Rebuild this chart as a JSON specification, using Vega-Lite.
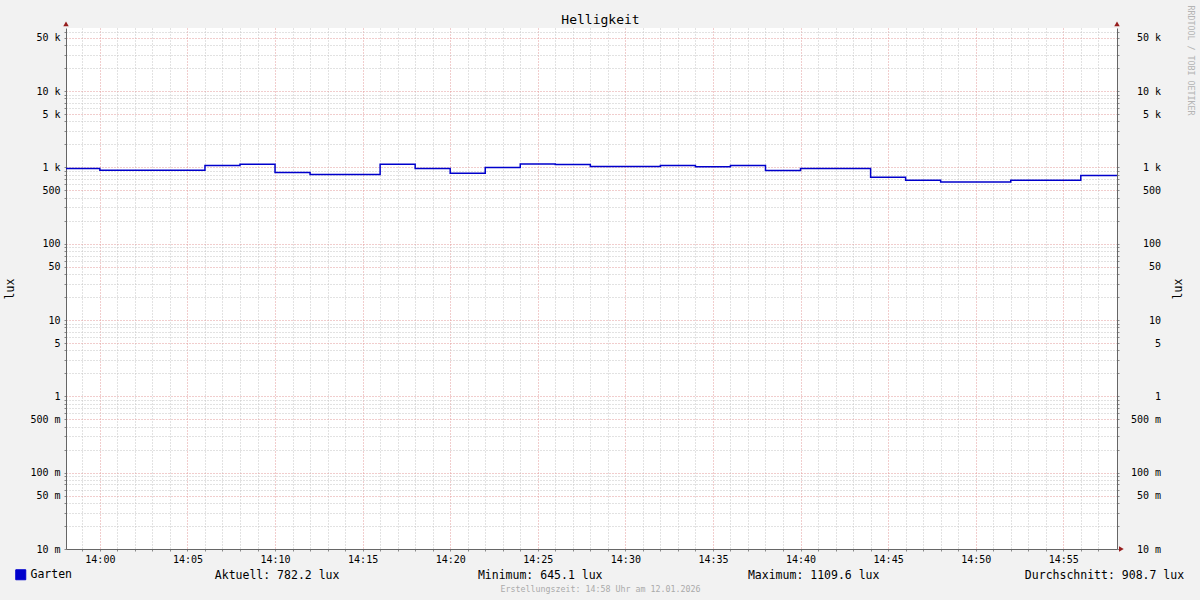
{
  "$schema": "https://vega.github.io/schema/vega-lite/v6.json",
  "autosize": "none",
  "width": 1051,
  "height": 521,
  "padding": {"left": 66, "top": 28, "right": 83, "bottom": 51},
  "background": "#F2F2F2",
  "config": {"view": {"stroke": null, "fill": "#FFFFFF"}, "font": "DejaVu Sans Mono"},
  "resolve": {"axis": {"x": "independent", "y": "independent"}},
  "layer": [
    {
      "data": {"values": [
        {"zeit": "2026-01-12T13:58:00Z", "lux": 970},
        {"zeit": "2026-01-12T14:00:00Z", "lux": 914},
        {"zeit": "2026-01-12T14:06:00Z", "lux": 1062},
        {"zeit": "2026-01-12T14:08:00Z", "lux": 1095},
        {"zeit": "2026-01-12T14:10:00Z", "lux": 860},
        {"zeit": "2026-01-12T14:12:00Z", "lux": 809},
        {"zeit": "2026-01-12T14:16:00Z", "lux": 1100},
        {"zeit": "2026-01-12T14:18:00Z", "lux": 970},
        {"zeit": "2026-01-12T14:20:00Z", "lux": 835},
        {"zeit": "2026-01-12T14:22:00Z", "lux": 1000},
        {"zeit": "2026-01-12T14:24:00Z", "lux": 1109.6},
        {"zeit": "2026-01-12T14:26:00Z", "lux": 1090},
        {"zeit": "2026-01-12T14:28:00Z", "lux": 1030},
        {"zeit": "2026-01-12T14:32:00Z", "lux": 1060},
        {"zeit": "2026-01-12T14:34:00Z", "lux": 1020},
        {"zeit": "2026-01-12T14:36:00Z", "lux": 1060},
        {"zeit": "2026-01-12T14:38:00Z", "lux": 910},
        {"zeit": "2026-01-12T14:40:00Z", "lux": 965},
        {"zeit": "2026-01-12T14:44:00Z", "lux": 740},
        {"zeit": "2026-01-12T14:46:00Z", "lux": 676},
        {"zeit": "2026-01-12T14:48:00Z", "lux": 645.1},
        {"zeit": "2026-01-12T14:52:00Z", "lux": 676},
        {"zeit": "2026-01-12T14:56:00Z", "lux": 782.2},
        {"zeit": "2026-01-12T14:58:04Z", "lux": 782.2}
      ]},
      "mark": {"type": "line", "interpolate": "step-after", "strokeWidth": 1.5, "clip": true},
      "encoding": {
        "x": {
          "field": "zeit", "type": "temporal",
          "scale": {"type": "utc", "domain": [1768226284000, 1768229884000]},
          "axis": {
            "orient": "bottom",
            "values": [1768226340000,1768226400000,1768226460000,1768226520000,1768226580000,1768226640000,1768226700000,1768226760000,1768226820000,1768226880000,1768226940000,1768227000000,1768227060000,1768227120000,1768227180000,1768227240000,1768227300000,1768227360000,1768227420000,1768227480000,1768227540000,1768227600000,1768227660000,1768227720000,1768227780000,1768227840000,1768227900000,1768227960000,1768228020000,1768228080000,1768228140000,1768228200000,1768228260000,1768228320000,1768228380000,1768228440000,1768228500000,1768228560000,1768228620000,1768228680000,1768228740000,1768228800000,1768228860000,1768228920000,1768228980000,1768229040000,1768229100000,1768229160000,1768229220000,1768229280000,1768229340000,1768229400000,1768229460000,1768229520000,1768229580000,1768229640000,1768229700000,1768229760000,1768229820000],
            "labelExpr": "utcminutes(datum.value) % 5 === 0 ? utcFormat(datum.value, '%H:%M') : ''",
            "labelFont": "DejaVu Sans Mono", "labelFontSize": 10, "labelColor": "#000000",
            "labelPadding": 3, "labelOverlap": false, "labelFlush": false,
            "tickSize": 2, "tickColor": "#888888",
            "domainColor": "#666666", "domainWidth": 1,
            "grid": true,
            "gridColor": {"condition": {"test": "utcminutes(datum.value) % 5 === 0", "value": "#E29A9A"}, "value": "#C4C4C4"},
            "gridDash": [1, 2], "gridWidth": 1,
            "title": "Aktuell: 782.2 lux\u00a0\u00a0\u00a0\u00a0\u00a0\u00a0\u00a0\u00a0\u00a0\u00a0\u00a0\u00a0\u00a0\u00a0\u00a0\u00a0\u00a0\u00a0\u00a0\u00a0Minimum: 645.1 lux\u00a0\u00a0\u00a0\u00a0\u00a0\u00a0\u00a0\u00a0\u00a0\u00a0\u00a0\u00a0\u00a0\u00a0\u00a0\u00a0\u00a0\u00a0\u00a0\u00a0\u00a0Maximum: 1109.6 lux\u00a0\u00a0\u00a0\u00a0\u00a0\u00a0\u00a0\u00a0\u00a0\u00a0\u00a0\u00a0\u00a0\u00a0\u00a0\u00a0\u00a0\u00a0\u00a0\u00a0\u00a0Durchschnitt: 908.7 lux",
            "titleFont": "DejaVu Sans Mono", "titleFontSize": 11.5, "titleFontWeight": "normal", "titleColor": "#000000",
            "titleX": 148.3, "titleY": 26, "titleAlign": "left", "titleAnchor": "start", "titleBaseline": "middle"
          }
        },
        "y": {
          "field": "lux", "type": "quantitative",
          "scale": {"type": "log", "domain": [0.01, 67000], "nice": false},
          "axis": {
            "orient": "left",
            "values": [0.01,0.02,0.03,0.04,0.05,0.06,0.07,0.08,0.09,0.1,0.2,0.3,0.4,0.5,0.6,0.7,0.8,0.9,1,2,3,4,5,6,7,8,9,10,20,30,40,50,60,70,80,90,100,200,300,400,500,600,700,800,900,1000,2000,3000,4000,5000,6000,7000,8000,9000,10000,20000,30000,40000,50000,60000],
            "labelExpr": "indexof([0.01,0.05,0.1,0.5,1,5,10,50,100,500,1000,5000,10000,50000], datum.value) < 0 ? '' : datum.value >= 1000 ? format(datum.value / 1000, 'd') + ' k' : datum.value >= 1 ? format(datum.value, 'd') : format(datum.value * 1000, '.0f') + ' m'",
            "labelFont": "DejaVu Sans Mono", "labelFontSize": 10, "labelColor": "#000000",
            "labelPadding": 4, "labelOverlap": false, "labelFlush": false,
            "tickSize": 2, "tickColor": "#888888",
            "domainColor": "#666666", "domainWidth": 1,
            "grid": true,
            "gridColor": {"condition": {"test": "indexof([0.01,0.05,0.1,0.5,1,5,10,50,100,500,1000,5000,10000,50000], datum.value) >= 0", "value": "#E29A9A"}, "value": "#C4C4C4"},
            "gridDash": [1, 2], "gridWidth": 1,
            "title": "lux",
            "titleFont": "DejaVu Sans Mono", "titleFontSize": 11.5, "titleFontWeight": "normal", "titleColor": "#000000",
            "titleX": -56, "titleY": 260.5, "titleAngle": 270, "titleAlign": "center", "titleBaseline": "middle"
          }
        },
        "color": {
          "datum": "Garten", "type": "nominal",
          "scale": {"range": ["#0000CC"]},
          "legend": {
            "orient": "none", "legendX": -51, "legendY": 541, "title": null, "padding": 0,
            "symbolType": "square", "symbolSize": 100, "symbolFillColor": "#0000CC", "symbolStrokeColor": "#000000", "symbolStrokeWidth": 1, "symbolOpacity": 1,
            "labelFont": "DejaVu Sans Mono", "labelFontSize": 11.5, "labelColor": "#000000", "labelOffset": 4
          }
        }
      }
    },
    {
      "data": {"values": [{}]},
      "mark": {"type": "point", "shape": "triangle-up", "filled": true, "size": 30, "color": "#961E1E", "opacity": 1},
      "encoding": {
        "x": {
          "datum": 1768226284000, "type": "temporal",
          "axis": {
            "orient": "bottom", "labels": false, "ticks": false, "domain": false, "grid": false,
            "title": "Erstellungszeit: 14:58 Uhr am 12.01.2026",
            "titleFont": "DejaVu Sans Mono", "titleFontSize": 8.3, "titleFontWeight": "normal", "titleColor": "#AAAAAA",
            "titleX": 534, "titleY": 40.5, "titleAlign": "center", "titleBaseline": "middle"
          }
        },
        "y": {
          "datum": 76000, "type": "quantitative",
          "axis": {
            "orient": "right",
            "values": [0.01,0.02,0.03,0.04,0.05,0.06,0.07,0.08,0.09,0.1,0.2,0.3,0.4,0.5,0.6,0.7,0.8,0.9,1,2,3,4,5,6,7,8,9,10,20,30,40,50,60,70,80,90,100,200,300,400,500,600,700,800,900,1000,2000,3000,4000,5000,6000,7000,8000,9000,10000,20000,30000,40000,50000,60000],
            "labelExpr": "indexof([0.01,0.05,0.1,0.5,1,5,10,50,100,500,1000,5000,10000,50000], datum.value) < 0 ? '' : datum.value >= 1000 ? format(datum.value / 1000, 'd') + ' k' : datum.value >= 1 ? format(datum.value, 'd') : format(datum.value * 1000, '.0f') + ' m'",
            "labelFont": "DejaVu Sans Mono", "labelFontSize": 10, "labelColor": "#000000",
            "labelAlign": "right", "labelPadding": 41.5, "labelOverlap": false, "labelFlush": false,
            "tickSize": 2, "tickColor": "#888888",
            "domainColor": "#666666", "domainWidth": 1,
            "grid": false,
            "title": "lux",
            "titleFont": "DejaVu Sans Mono", "titleFontSize": 11.5, "titleFontWeight": "normal", "titleColor": "#000000",
            "titleX": 61.5, "titleY": 260.5, "titleAngle": 270, "titleAlign": "center", "titleBaseline": "middle"
          }
        }
      }
    },
    {
      "data": {"values": [{}]},
      "mark": {"type": "point", "shape": "triangle-up", "filled": true, "size": 30, "color": "#961E1E", "opacity": 1},
      "encoding": {
        "x": {
          "datum": 1768229884000, "type": "temporal",
          "axis": {
            "orient": "top", "labels": false, "ticks": false, "domain": false, "grid": false,
            "title": "Helligkeit",
            "titleFont": "DejaVu Sans Mono", "titleFontSize": 13, "titleFontWeight": "normal", "titleColor": "#000000",
            "titleX": 534, "titleY": -8.7, "titleAlign": "center", "titleBaseline": "middle"
          }
        },
        "y": {
          "datum": 76000, "type": "quantitative",
          "axis": {
            "orient": "right", "labels": false, "ticks": false, "domain": false, "grid": false,
            "title": "RRDTOOL / TOBI OETIKER",
            "titleFont": "DejaVu Sans Mono", "titleFontSize": 8.3, "titleFontWeight": "normal", "titleColor": "#B4B4B4",
            "titleX": 72.5, "titleY": -23, "titleAngle": 90, "titleAlign": "left", "titleBaseline": "middle"
          }
        }
      }
    },
    {
      "data": {"values": [{}]},
      "mark": {"type": "point", "shape": "triangle-right", "filled": true, "size": 30, "color": "#961E1E", "opacity": 1},
      "encoding": {
        "x": {"datum": 1768229899000, "type": "temporal", "axis": null},
        "y": {"datum": 0.01, "type": "quantitative", "axis": null}
      }
    }
  ]
}
